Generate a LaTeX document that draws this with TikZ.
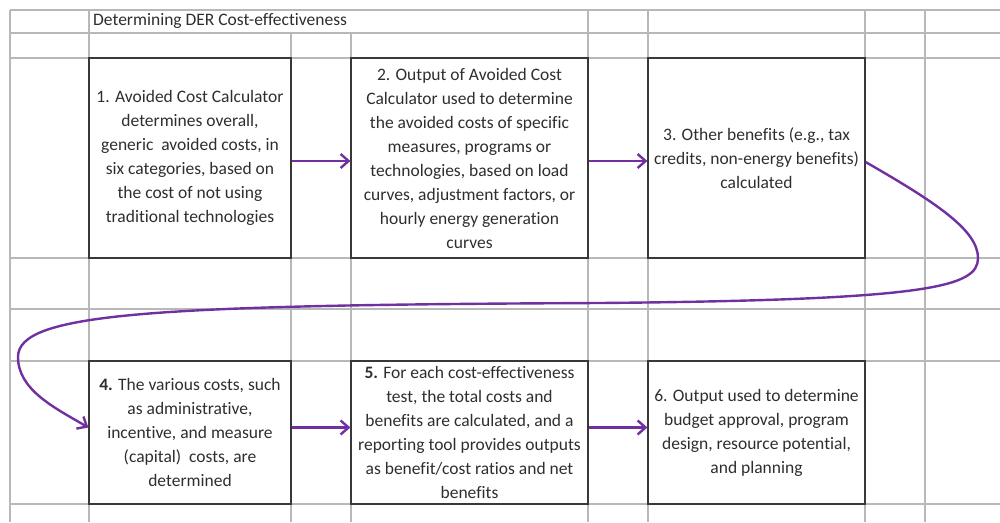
\documentclass[tikz,border=0pt]{standalone}
\usepackage{fontspec}
\setmainfont{Carlito}[Ligatures=NoCommon]
\usepackage{tikz}
\usetikzlibrary{arrows.meta}

\definecolor{flowpurple}{HTML}{7030A0}

\begin{document}
\begin{tikzpicture}[x=1pt,y=-1pt,font=\fontsize{17.5}{24}\selectfont,
	-{Straight Barb[length=8pt,width=14pt]}]
			\tikzstyle{box} = [rectangle,draw=black!78,line width=1.2pt,align=center,inner sep=0pt,text=black!82]
			\tikzstyle{cell} = [draw=black!28,line width=1.1pt,-]
			\tikzstyle{flow} = [draw=flowpurple,line width=2.4pt]
			
			\useasboundingbox (0,0) rectangle (1000,522);
			% sheet grid
			\foreach \y in {10,33,58,258,309,361,504}
				\draw[cell] (10,\y) -- (1000,\y);
			\foreach \x in {10,89,588,648,865,925}
				\draw[cell] (\x,10) -- (\x,522);
			\foreach \x in {291,351}
				\draw[cell] (\x,33) -- (\x,522);
			
			\node[anchor=west,text=black!82,inner sep=0pt] (title) at (93,21) {Determining DER Cost-effectiveness};
			
			\node[box,minimum width=202pt,minimum height=200pt] (b1) at (190,158)
				{1. Avoided Cost Calculator\\ determines overall,\\ generic~ avoided costs, in\\ six categories, based on\\ the cost of not using\\ traditional technologies};
			\node[box,minimum width=237pt,minimum height=200pt] (b2) at (469.5,158)
				{2. Output of Avoided Cost\\ Calculator used to determine\\ the avoided costs of specific\\ measures, programs or\\ technologies, based on load\\ curves, adjustment factors, or\\ hourly energy generation\\ curves};
			\node[box,minimum width=217pt,minimum height=200pt] (b3) at (756.5,158)
				{3. Other benefits (e.g., tax\\ credits, non-energy benefits)\\ calculated};
			\node[box,minimum width=202pt,minimum height=143pt] (b4) at (190,432.5)
				{\textbf{4.} The various costs, such\\ as administrative,\\ incentive, and measure\\ (capital)~ costs, are\\ determined};
			\node[box,minimum width=237pt,minimum height=143pt] (b5) at (469.5,432.5)
				{\textbf{5.} For each cost-effectiveness\\ test, the total costs and\\ benefits are calculated, and a\\ reporting tool provides outputs\\ as benefit/cost ratios and net\\ benefits};
			\node[box,minimum width=217pt,minimum height=143pt] (b6) at (756.5,432.5)
				{6. Output used to determine\\ budget approval, program\\ design, resource potential,\\ and planning};
			
			\draw[flow] ([yshift=-3pt]b1.east) -- ([yshift=-3pt]b2.west);
			\draw[flow] ([yshift=-3pt]b2.east) -- ([yshift=-3pt]b3.west);
			\draw[flow] ([yshift=5pt]b4.east) -- ([yshift=5pt]b5.west);
			\draw[flow] ([yshift=5pt]b5.east) -- ([yshift=5pt]b6.west);
			\draw[flow] ([yshift=-4pt]b3.east) .. controls (935,202) and (978,230) .. (978,258)
				.. controls (978,287) and (930,300) .. (600,303)
				.. controls (150,305) and (18,313) .. (18,357)
				.. controls (18,390) and (55,408) .. ([yshift=5pt]b4.west);
		\end{tikzpicture}
\end{document}
